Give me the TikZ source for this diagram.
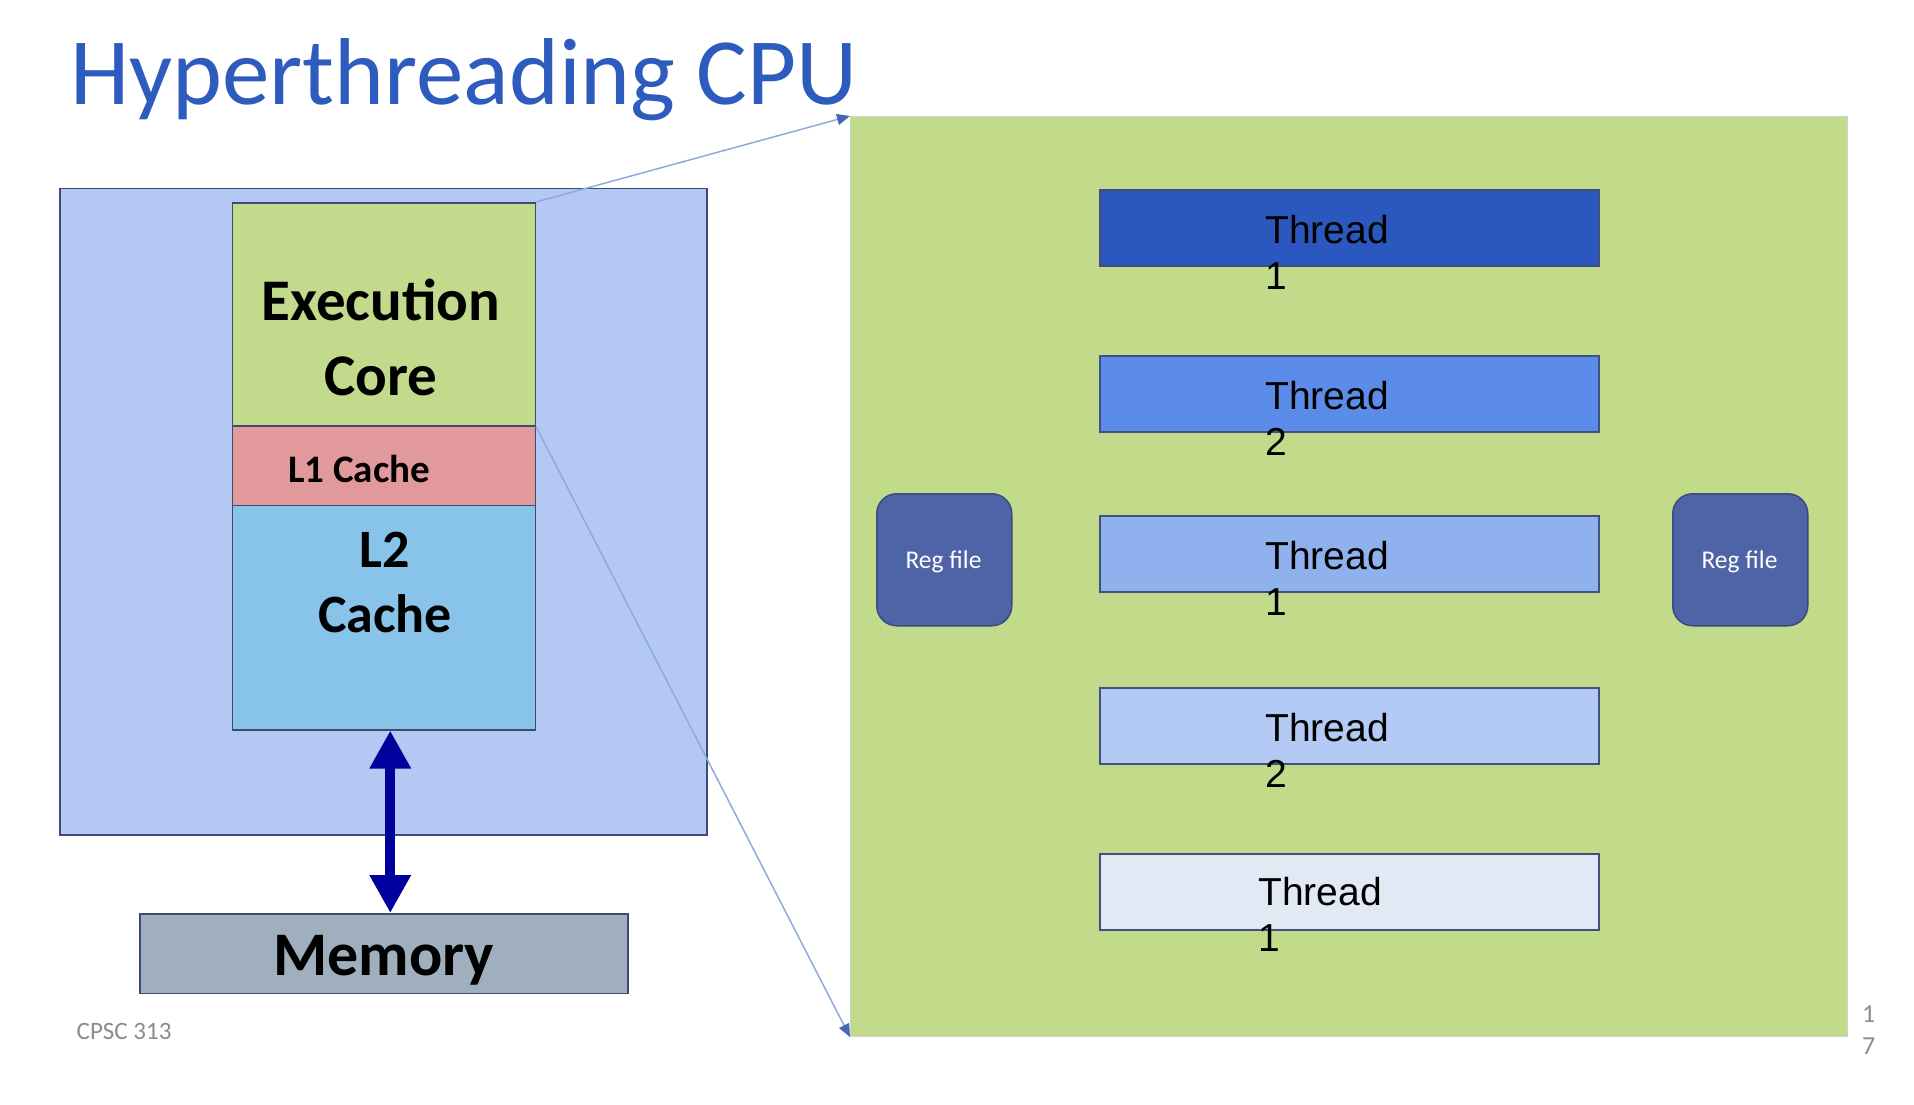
\documentclass[tikz,border=0pt]{standalone}
\usepackage{fontspec}
\setmainfont{Carlito}
\newfontfamily\arialf{Liberation Sans}
\usetikzlibrary{arrows.meta}
\definecolor{titleblue}{HTML}{2E5BBE}
\definecolor{outerfill}{HTML}{B4C8F4}
\definecolor{boxline}{HTML}{3F4A72}
\definecolor{coregreen}{HTML}{C1DA8B}
\definecolor{lonered}{HTML}{E1999C}
\definecolor{ltwoblue}{HTML}{88C3E9}
\definecolor{memgrey}{HTML}{9FAFBD}
\definecolor{biggreen}{HTML}{C1DB8B}
\definecolor{greenedge}{HTML}{CBD5D0}
\definecolor{thA}{HTML}{2A58BF}
\definecolor{thB}{HTML}{5B8CE9}
\definecolor{thC}{HTML}{8FB1EE}
\definecolor{thD}{HTML}{B3CAF4}
\definecolor{thE}{HTML}{E1E9F5}
\definecolor{thline}{HTML}{41507F}
\definecolor{regfill}{HTML}{4E64A6}
\definecolor{regline}{HTML}{3A4B80}
\definecolor{arrowblue}{HTML}{00009C}
\definecolor{thinline}{HTML}{8FAADC}
\definecolor{thintip}{HTML}{4468B0}
\definecolor{footgrey}{HTML}{8C8C8C}
\begin{document}
\begin{tikzpicture}[x=1pt,y=-1pt,
  blockbox/.style={draw=boxline,line width=1.5pt,inner sep=0pt,anchor=north west},
  threadbox/.style={draw=thline,line width=1.5pt,inner sep=0pt,anchor=north west,minimum width=499pt,minimum height=76pt},
  threadlabel/.style={anchor=base west,inner sep=0pt,align=left,font=\arialf\fontsize{39}{46}\selectfont},
  regbox/.style={draw=regline,line width=1.5pt,fill=regfill,rounded corners=20pt,inner sep=0pt,anchor=north west,minimum width=135pt,minimum height=132pt},
  reglabel/.style={anchor=base,inner sep=0pt,text=white,font=\fontsize{25.5}{30}\selectfont},
  boldlabel/.style={anchor=base,inner sep=0pt,align=center},
  thinconn/.style={draw=thinline,line width=1.5pt,-{Triangle[length=13pt,width=11pt,color=thintip]}},
  foot/.style={anchor=base west,inner sep=0pt,text=footgrey,font=\fontsize{25}{30}\selectfont}
]
\useasboundingbox (0,0) rectangle (1914,1104);
\fill[white] (0,0) rectangle (1914,1104);

% title
\node[anchor=base west,inner sep=0pt,text=titleblue,font=\fontsize{95}{110}\selectfont] (title) at (70,104) {Hyperthreading CPU};

% left part
\node[blockbox,fill=outerfill,minimum width=646.6pt,minimum height=646.5pt] (outer) at (59.4,187.5) {};
\node[blockbox,fill=coregreen,minimum width=303pt,minimum height=223pt] (core) at (231.5,202) {};
\node[blockbox,fill=lonered,minimum width=303pt,minimum height=79.6pt] (l1) at (231.5,425) {};
\node[blockbox,fill=ltwoblue,minimum width=303pt,minimum height=224.4pt] (l2) at (231.5,504.6) {};
\node[blockbox,fill=memgrey,minimum width=488pt,minimum height=79.5pt] (mem) at (139,913) {};

% multi-line nodes: the base anchor sits on the last line
\node[boldlabel,font=\bfseries\fontsize{59}{75}\selectfont] (coretxt) at (381,395) {Execution\\Core};
\node[boldlabel,font=\bfseries\fontsize{39}{45}\selectfont] (l1txt) at (359,482) {L1 Cache};
\node[boldlabel,font=\bfseries\fontsize{54}{65}\selectfont] (l2txt) at (385,632) {L2\\Cache};
\node[boldlabel,font=\bfseries\fontsize{62}{70}\selectfont] (memtxt) at (384,975) {Memory};

\draw[arrowblue,line width=10pt,{Triangle[width=39pt,length=38pt]}-{Triangle[width=39pt,length=38pt]}]
  ([xshift=6.5pt]l2.south) -- ([xshift=6.5pt]mem.north);

\node[foot] (cpsc) at (76.5,1039) {CPSC 313};

% right part
\node[draw=greenedge,line width=1pt,fill=biggreen,inner sep=0pt,anchor=north west,minimum width=997pt,minimum height=920pt] (green) at (850,116) {};

\node[threadbox,fill=thA] (t1) at (1099,189) {};
\node[threadbox,fill=thB] (t2) at (1099,355) {};
\node[threadbox,fill=thC] (t3) at (1099,515) {};
\node[threadbox,fill=thD] (t4) at (1099,687) {};
\node[threadbox,fill=thE] (t5) at (1099,853) {};

\node[threadlabel] (t1txt) at (1265,289) {Thread\\1};
\node[threadlabel] (t2txt) at (1265,455) {Thread\\2};
\node[threadlabel] (t3txt) at (1265,615) {Thread\\1};
\node[threadlabel] (t4txt) at (1265,787) {Thread\\2};
\node[threadlabel] (t5txt) at (1258,951) {Thread\\1};

\node[regbox] (regL) at (876,493) {};
\node[regbox] (regR) at (1672,493) {};
\node[reglabel] (regLtxt) at (943.5,568) {Reg file};
\node[reglabel] (regRtxt) at (1739.5,568) {Reg file};

% zoom connectors
\draw[thinconn] (core.north east) -- (green.north west);
\draw[thinconn] (core.south east) -- (green.south west);

% page number
\node[foot,align=left,font=\fontsize{26}{31.5}\selectfont] (pgnum) at (1862,1054) {1\\7};
\end{tikzpicture}
\end{document}
